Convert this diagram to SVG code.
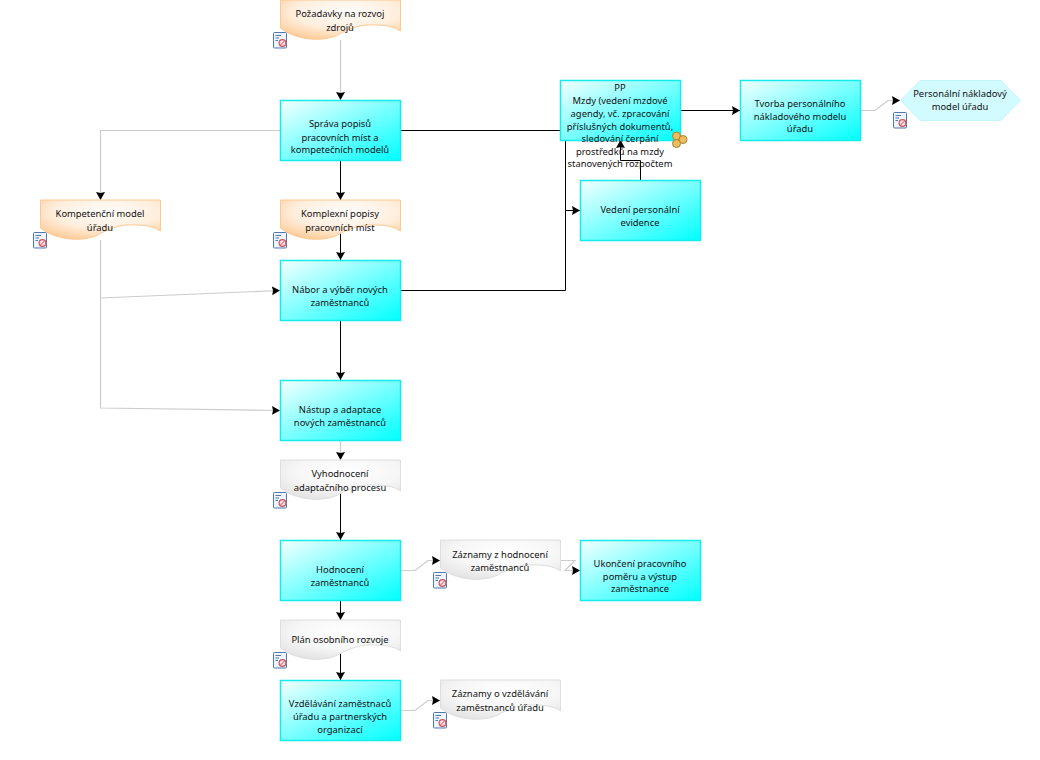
<svg xmlns="http://www.w3.org/2000/svg" width="1040" height="760" viewBox="0 0 1040 760">
<style>
text{font-family:"Noto Sans","Liberation Sans",sans-serif;font-size:9.4px;fill:#111;text-anchor:middle}
.task{fill:url(#gc);stroke:#14ecec;stroke-width:1.5}
.o{fill:url(#go);stroke:#fdc98f;stroke-width:1}
.g{fill:url(#gg);stroke:#dedede;stroke-width:1}
.k{fill:none;stroke:#000;stroke-width:1}
.l{fill:none;stroke:#cccccc;stroke-width:1.2}
</style>
<defs>
<linearGradient id="gc" x1="0" y1="0" x2="1" y2="1"><stop offset="0" stop-color="#f4ffff"/><stop offset="1" stop-color="#00ffff"/></linearGradient>
<radialGradient id="go" cx="0.55" cy="0.3" r="0.8"><stop offset="0" stop-color="#fffdfb"/><stop offset="0.55" stop-color="#ffeedd"/><stop offset="1" stop-color="#fdc68d"/></radialGradient>
<radialGradient id="gg" cx="0.55" cy="0.3" r="0.8"><stop offset="0" stop-color="#ffffff"/><stop offset="0.55" stop-color="#f6f6f6"/><stop offset="1" stop-color="#e0e0e0"/></radialGradient>
<marker id="a" markerUnits="userSpaceOnUse" markerWidth="11" markerHeight="11" refX="8" refY="5" orient="auto"><path d="M0 0.500L8 5L0 9.500L1 5z" fill="#000"/></marker>
<path id="doc" d="M0 0H120V31C116 28 108 25 95 25C80 24 70 28 55 36C40 42 15 40 0 28z"/>
<g id="ic"><rect x="0.500" y="0.500" width="13" height="15.500" rx="1" fill="#eef4fb" stroke="#4f78ad"/><path d="M2.500 3.500H8M2.500 6H6M2.500 8.500H5" stroke="#4d78b0" fill="none"/><circle cx="9.500" cy="11" r="3.400" fill="#f6dede" stroke="#cc5560" stroke-width="1.200"/><path d="M7.500 13L11.500 9" stroke="#cc5560"/></g>
</defs>
<g id="connectors">
<path class="l" d="M340.500 40V100" marker-end="url(#a)"/>
<path class="l" d="M280 130.500H100.500V200" marker-end="url(#a)"/>
<path class="k" d="M340.500 160V200" marker-end="url(#a)"/>
<path class="k" d="M400 130.500H565.500V290.500H400"/>
<path class="k" d="M565.500 210.500H580" marker-end="url(#a)"/>
<path class="k" d="M340.500 232V260" marker-end="url(#a)"/>
<path class="l" d="M100.500 240V408L280 410.500" marker-end="url(#a)"/>
<path class="l" d="M100.500 298L280 290.500" marker-end="url(#a)"/>
<path class="k" d="M340.500 320V380" marker-end="url(#a)"/>
<path class="l" d="M340.500 440V460" marker-end="url(#a)"/>
<path class="k" d="M340.500 492V540" marker-end="url(#a)"/>
<path class="k" d="M340.500 600V620" marker-end="url(#a)"/>
<path class="k" d="M340.500 652V680" marker-end="url(#a)"/>
<path class="l" d="M400 570.500H415L428 560.500H440" marker-end="url(#a)"/>
<path class="l" d="M560 560.500H575L565 570.500H580" marker-end="url(#a)"/>
<path class="k" d="M640.500 180V160.500H620.500V140" marker-end="url(#a)"/>
<path class="k" d="M680 110.500H740" marker-end="url(#a)"/>
<path class="l" d="M860 110.500H875L888 100.500H900" marker-end="url(#a)"/>
<path class="l" d="M400 710.500H415L428 700.500H440" marker-end="url(#a)"/>
</g>
<g id="n1"><use href="#doc" x="280.500" y="0" class="o"/><text x="340" y="17">Požadavky na rozvoj</text><text x="340" y="31">zdrojů</text><use href="#ic" x="273" y="32"/></g>
<g id="n2"><rect class="task" x="280.500" y="100.500" width="120" height="60"/><text x="340" y="127">Správa popisů</text><text x="340" y="141">pracovních míst a</text><text x="340" y="153">kompetečních modelů</text></g>
<g id="n3"><rect class="task" x="560.500" y="80.500" width="120" height="60"/><text x="620" y="91">PP</text><text x="620" y="104">Mzdy (vedení mzdové</text><text x="620" y="117">agendy, vč. zpracování</text><text x="620" y="130">příslušných dokumentů,</text><text x="620" y="142">sledování čerpání</text><text x="620" y="155">prostředků na mzdy</text><text x="620" y="167">stanovených rozpočtem</text>
<g fill="#efbe5c" stroke="#a5813a"><circle cx="676.500" cy="136" r="4"/><circle cx="683" cy="139.500" r="4"/><circle cx="676.500" cy="143.500" r="4"/></g></g>
<g id="n4"><rect class="task" x="740.500" y="80.500" width="120" height="60"/><text x="800" y="107">Tvorba personálního</text><text x="800" y="120">nákladového modelu</text><text x="800" y="132">úřadu</text></g>
<g id="n5"><path d="M900.500 100.500L920 80.500H1001L1020.500 100.500L1001 120.500H920z" fill="#d2fbff" stroke="#c4f6f9"/><text x="960" y="97">Personální nákladový</text><text x="960" y="110">model úřadu</text><use href="#ic" x="893" y="112"/></g>
<g id="n6"><use href="#doc" x="40.500" y="200" class="o"/><text x="100" y="217">Kompetenční model</text><text x="100" y="231">úřadu</text><use href="#ic" x="33" y="232"/></g>
<g id="n7"><use href="#doc" x="280.500" y="200" class="o"/><text x="340" y="217">Komplexní popisy</text><text x="340" y="231">pracovních míst</text><use href="#ic" x="273" y="232"/></g>
<g id="n8"><rect class="task" x="280.500" y="260.500" width="120" height="60"/><text x="340" y="293">Nábor a výběr nových</text><text x="340" y="306">zaměstnanců</text></g>
<g id="n9"><rect class="task" x="580.500" y="180.500" width="120" height="60"/><text x="640" y="213">Vedení personální</text><text x="640" y="226">evidence</text></g>
<g id="n10"><rect class="task" x="280.500" y="380.500" width="120" height="60"/><text x="340" y="413">Nástup a adaptace</text><text x="340" y="426">nových zaměstnanců</text></g>
<g id="n11"><use href="#doc" x="280.500" y="460" class="g"/><text x="340" y="477">Vyhodnocení</text><text x="340" y="491">adaptačního procesu</text><use href="#ic" x="273" y="492"/></g>
<g id="n12"><rect class="task" x="280.500" y="540.500" width="120" height="60"/><text x="340" y="573">Hodnocení</text><text x="340" y="586">zaměstnanců</text></g>
<g id="n13"><use href="#doc" x="440.500" y="540" class="g"/><text x="500" y="558">Záznamy z hodnocení</text><text x="500" y="571">zaměstnanců</text><use href="#ic" x="433" y="572"/></g>
<g id="n14"><rect class="task" x="580.500" y="540.500" width="120" height="60"/><text x="640" y="567">Ukončení pracovního</text><text x="640" y="580">poměru a výstup</text><text x="640" y="592">zaměstnance</text></g>
<g id="n15"><use href="#doc" x="280.500" y="620" class="g"/><text x="340" y="643">Plán osobního rozvoje</text><use href="#ic" x="273" y="652"/></g>
<g id="n16"><rect class="task" x="280.500" y="680.500" width="120" height="60"/><text x="340" y="707">Vzdělávání zaměstnaců</text><text x="340" y="720">úřadu a partnerských</text><text x="340" y="733">organizací</text></g>
<g id="n17"><use href="#doc" x="440.500" y="680" class="g"/><text x="500" y="697">Záznamy o vzdělávání</text><text x="500" y="711">zaměstnanců úřadu</text><use href="#ic" x="433" y="712"/></g>
</svg>
